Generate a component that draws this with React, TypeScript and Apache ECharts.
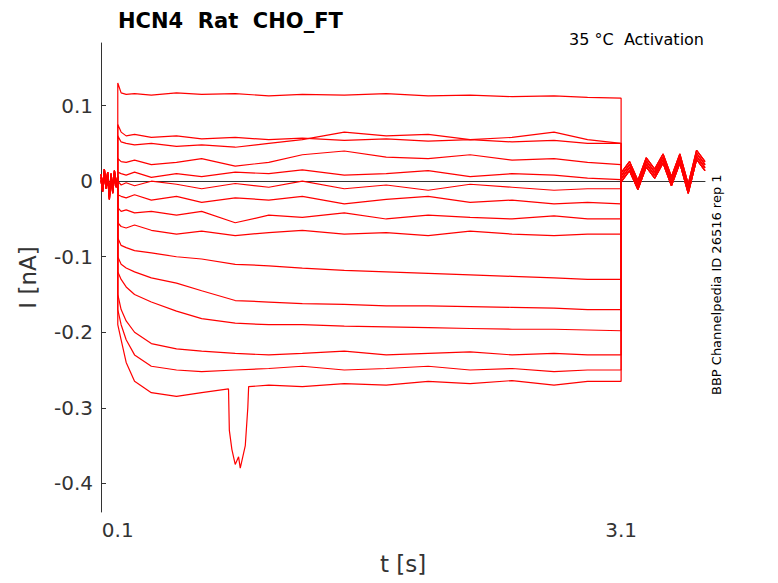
import React, { useEffect, useRef } from "react";
import * as echarts from "echarts";

const stepTimes = [0.1, 0.12, 0.15, 0.2, 0.3, 0.45, 0.6, 0.8, 1.0, 1.2, 1.45, 1.7, 1.95, 2.2, 2.45, 2.7, 2.9, 3.1];
const sweeps: number[][] = [
  [0.13, 0.117, 0.115, 0.116, 0.114, 0.117, 0.115, 0.116, 0.113, 0.115, 0.114, 0.116, 0.113, 0.114, 0.112, 0.113, 0.111, 0.11],
  [0.075, 0.065, 0.06, 0.062, 0.058, 0.06, 0.056, 0.058, 0.055, 0.057, 0.054, 0.056, 0.053, 0.055, 0.052, 0.054, 0.05, 0.05],
  [0.06, 0.052, 0.05, 0.048, 0.05, 0.046, 0.048, 0.045, 0.05, 0.055, 0.065, 0.06, 0.062, 0.055, 0.058, 0.065, 0.055, 0.05],
  [0.03, 0.026, 0.025, 0.028, 0.022, 0.025, 0.03, 0.02, 0.025, 0.035, 0.04, 0.032, 0.03, 0.035, 0.028, 0.03, 0.025, 0.022],
  [0.012, 0.01, 0.008, 0.012, 0.005, 0.01, 0.006, 0.012, 0.01, 0.015, 0.008, 0.01, 0.014, 0.006, 0.01, 0.008, 0.004, 0.002],
  [0.0, -0.005, -0.002, -0.006, 0.0, -0.004, -0.01, -0.003, -0.008, 0.0, -0.01, -0.005, -0.012, -0.004, -0.008, -0.012, -0.01, -0.01],
  [-0.018, -0.02, -0.022, -0.018, -0.025, -0.02, -0.028, -0.022, -0.025, -0.02, -0.03, -0.024, -0.02, -0.028, -0.025, -0.03, -0.028, -0.03],
  [-0.035, -0.04, -0.038, -0.042, -0.04, -0.045, -0.04, -0.055, -0.045, -0.048, -0.042, -0.05, -0.045, -0.048, -0.05, -0.046, -0.05, -0.05],
  [-0.055, -0.06, -0.062, -0.058, -0.065, -0.07, -0.066, -0.072, -0.068, -0.065, -0.07, -0.068, -0.072, -0.066, -0.07, -0.072, -0.07, -0.07],
  [-0.075, -0.085, -0.088, -0.092, -0.095, -0.1, -0.103, -0.11, -0.112, -0.115, -0.118, -0.12, -0.122, -0.124, -0.126, -0.128, -0.13, -0.13],
  [-0.1, -0.11, -0.115, -0.12, -0.128, -0.135, -0.145, -0.158, -0.16, -0.162, -0.163, -0.165, -0.165, -0.166, -0.167, -0.168, -0.17, -0.17],
  [-0.12, -0.13, -0.14, -0.15, -0.16, -0.172, -0.182, -0.188, -0.19, -0.19, -0.192, -0.193, -0.194, -0.195, -0.196, -0.196, -0.197, -0.198],
  [-0.15, -0.17, -0.185, -0.2, -0.215, -0.222, -0.225, -0.228, -0.23, -0.228, -0.225, -0.23, -0.228, -0.226, -0.23, -0.228, -0.23, -0.23],
  [-0.17, -0.19, -0.21, -0.23, -0.245, -0.25, -0.252, -0.25, -0.248, -0.245, -0.25, -0.248, -0.245, -0.25, -0.248, -0.252, -0.25, -0.25],
  [-0.19, -0.21, -0.24, -0.265, -0.28, -0.285, -0.28, -0.275, -0.27, -0.272, -0.268, -0.27, -0.265, -0.268, -0.264, -0.27, -0.265, -0.265],
];
const dipTimes = [0.76, 0.765, 0.78, 0.8, 0.82, 0.83, 0.84, 0.86, 0.875, 0.88];
const dipValues = [-0.275, -0.33, -0.355, -0.375, -0.365, -0.38, -0.37, -0.35, -0.3, -0.272];
const preTimes = [0, 0.01, 0.02, 0.03, 0.04, 0.05, 0.06, 0.07, 0.08, 0.09, 0.1];
const preValues = [0.005, -0.01, 0.012, -0.006, 0.008, -0.02, 0.006, -0.012, 0.01, -0.004, 0.0];
const postTimes = [3.1, 3.15, 3.2, 3.25, 3.3, 3.35, 3.4, 3.45, 3.5, 3.55, 3.6];
const postValues = [0.005, 0.02, -0.005, 0.025, 0.01, 0.03, 0.0, 0.03, -0.01, 0.035, 0.02];

function buildSeries() {
  const out: any[] = [];
  sweeps.forEach((vals, i) => {
    const isDip = i === sweeps.length - 1;
    const data: number[][] = preTimes.map((t, k) => [t, preValues[k] + (i % 3 - 1) * 0.004]);
    stepTimes.forEach((t, k) => {
      if (isDip && t > 0.7 && t < 0.95) return;
      data.push([t, vals[k]]);
      if (isDip && k === 6) dipTimes.forEach((dt, j) => data.push([dt, dipValues[j]]));
    });
    postTimes.forEach((t, k) => data.push([t, postValues[k] + (i % 4 - 1.5) * 0.004]));
    out.push({ type: "line", data, symbol: "none", lineStyle: { color: "#ff0000", width: 1.2 } });
  });
  return out;
}

export default function App() {
  const ref = useRef<HTMLDivElement>(null);
  useEffect(() => {
    const chart = echarts.init(ref.current!, null, { renderer: "svg" });
    const font = "DejaVu Sans";
    chart.setOption({
      animation: false,
      grid: { left: 101, right: 73, top: 43, bottom: 71 },
      title: { text: "HCN4  Rat  CHO_FT", left: 113, top: 5, textStyle: { fontFamily: font, fontSize: 21, fontWeight: "bold", color: "#000" } },
      graphic: [
        { type: "text", right: 74, top: 31, style: { text: "35 °C  Activation", font: `16px ${font}`, fill: "#000" } },
        { type: "text", x: 710, y: 395, rotation: Math.PI / 2, style: { text: "BBP Channelpedia ID 26516 rep 1", font: `13px ${font}`, fill: "#000" } },
      ],
      xAxis: {
        type: "value", min: 0, max: 3.6, name: "t [s]", nameLocation: "middle", nameGap: 40,
        nameTextStyle: { fontFamily: font, fontSize: 23, color: "#333" },
        axisLine: { lineStyle: { color: "#333" } }, axisTick: { inside: true, customValues: [0.1, 3.1], lineStyle: { color: "#333" } },
        axisLabel: { customValues: [0.1, 3.1], fontFamily: font, fontSize: 20, color: "#333", formatter: (v: number) => v.toFixed(1) },
        splitLine: { show: false },
      },
      yAxis: {
        type: "value", min: -0.438, max: 0.183, name: "I [nA]", nameLocation: "middle", nameGap: 62,
        nameTextStyle: { fontFamily: font, fontSize: 23, color: "#333" },
        axisLine: { show: true, lineStyle: { color: "#333" } }, axisTick: { inside: true, customValues: [-0.4, -0.3, -0.2, -0.1, 0, 0.1], lineStyle: { color: "#333" } },
        axisLabel: { customValues: [-0.4, -0.3, -0.2, -0.1, 0, 0.1], fontFamily: font, fontSize: 20, color: "#333", formatter: (v: number) => (v === 0 ? "0" : v.toFixed(1)) },
        splitLine: { show: false },
      },
      series: buildSeries(),
    });
    return () => chart.dispose();
  }, []);
  return <div ref={ref} style={{ position: "fixed", left: 0, top: 0, width: 778, height: 583, background: "#fff" }} />;
}
